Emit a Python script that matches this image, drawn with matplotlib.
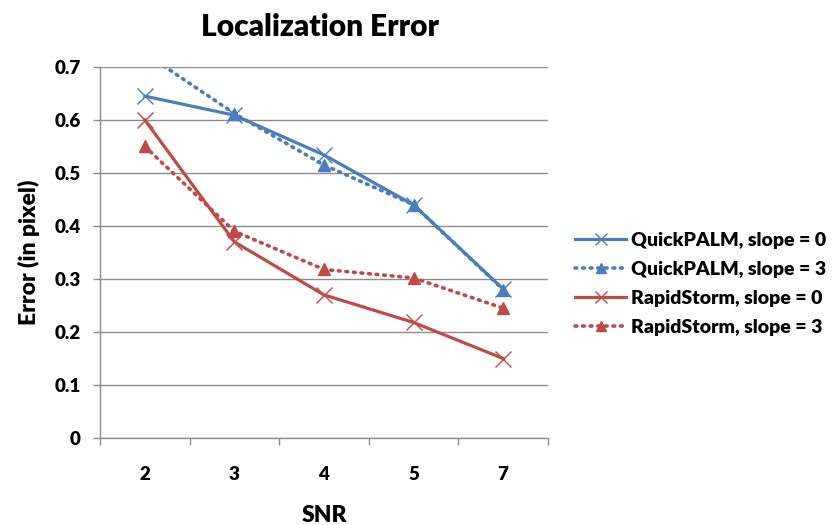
import matplotlib
matplotlib.use("Agg")
import matplotlib.pyplot as plt
import numpy as np

plt.rcParams['font.family'] = ['Lato', 'DejaVu Sans']

categories = ["2", "3", "4", "5", "7"]
qp_slope0 = [0.645, 0.609, 0.534, 0.440, 0.281]
qp_slope3 = [0.726, 0.612, 0.515, 0.440, 0.280]
rs_slope0 = [0.600, 0.370, 0.270, 0.218, 0.150]
rs_slope3 = [0.550, 0.390, 0.318, 0.302, 0.245]
labels = ["QuickPALM, slope = 0", "QuickPALM, slope = 3",
          "RapidStorm, slope = 0", "RapidStorm, slope = 3"]
yticks = [0, 0.1, 0.2, 0.3, 0.4, 0.5, 0.6, 0.7]
ytick_labels = ["0", "0.1", "0.2", "0.3", "0.4", "0.5", "0.6", "0.7"]

blue = "#4A7EBB"
red = "#BE4B48"
grid = "#8C8C8C"
W = 'heavy'

fig = plt.figure(figsize=(8.34, 5.25), dpi=100)
ax = fig.add_axes([0.12, 0.1657, 0.537, 0.7067])
x = np.arange(len(categories))

h1, = ax.plot(x, qp_slope0, color=blue, lw=2.3, marker='x', ms=11, mew=1.0,
              label=labels[0], zorder=4)
h2, = ax.plot(x, qp_slope3, color=blue, lw=2.6, ls=(0, (0.5, 1.6)),
              dash_capstyle='round', marker='^', ms=9, label=labels[1], zorder=3)
h3, = ax.plot(x, rs_slope0, color=red, lw=2.3, marker='x', ms=11, mew=1.0,
              label=labels[2], zorder=4)
h4, = ax.plot(x, rs_slope3, color=red, lw=2.6, ls=(0, (0.5, 1.6)),
              dash_capstyle='round', marker='^', ms=9, label=labels[3], zorder=3)

ax.set_xlim(-0.5, len(categories) - 0.5)
ax.set_ylim(0, 0.7)
ax.set_yticks(yticks)
ax.set_yticklabels(ytick_labels, fontsize=13.5, fontweight=W)
ax.set_xticks(x)
ax.set_xticklabels(categories, fontsize=13.5, fontweight=W)
ax.set_xticks(np.arange(-0.5, len(categories)), minor=True)
ax.tick_params(axis='x', which='major', length=0, pad=20)
ax.tick_params(axis='x', which='minor', length=5, width=1, color=grid, direction='out')
ax.tick_params(axis='y', length=5, width=1, color=grid, direction='out', pad=9)
ax.grid(axis='y', color=grid, lw=1)
ax.set_axisbelow(True)
for s in ['top', 'right']:
    ax.spines[s].set_visible(False)
for s in ['left', 'bottom']:
    ax.spines[s].set_color(grid)
    ax.spines[s].set_linewidth(1)

ax.set_xlabel("SNR", fontsize=16.5, fontweight=W, labelpad=16)
ax.set_ylabel("Error (in pixel)", fontsize=16.5, fontweight=W, labelpad=10)
fig.text(0.384, 0.948, "Localization Error", ha='center', va='center',
         fontsize=21.5, fontweight=W)

leg = fig.legend(handles=[h1, h2, h3, h4], loc='center left',
                 bbox_to_anchor=(0.669, 0.459), frameon=False,
                 prop={'size': 14, 'weight': W}, handlelength=2.6,
                 handletextpad=0.25, labelspacing=0.62, markerscale=0.8)

fig.savefig("out.png", dpi=100)
